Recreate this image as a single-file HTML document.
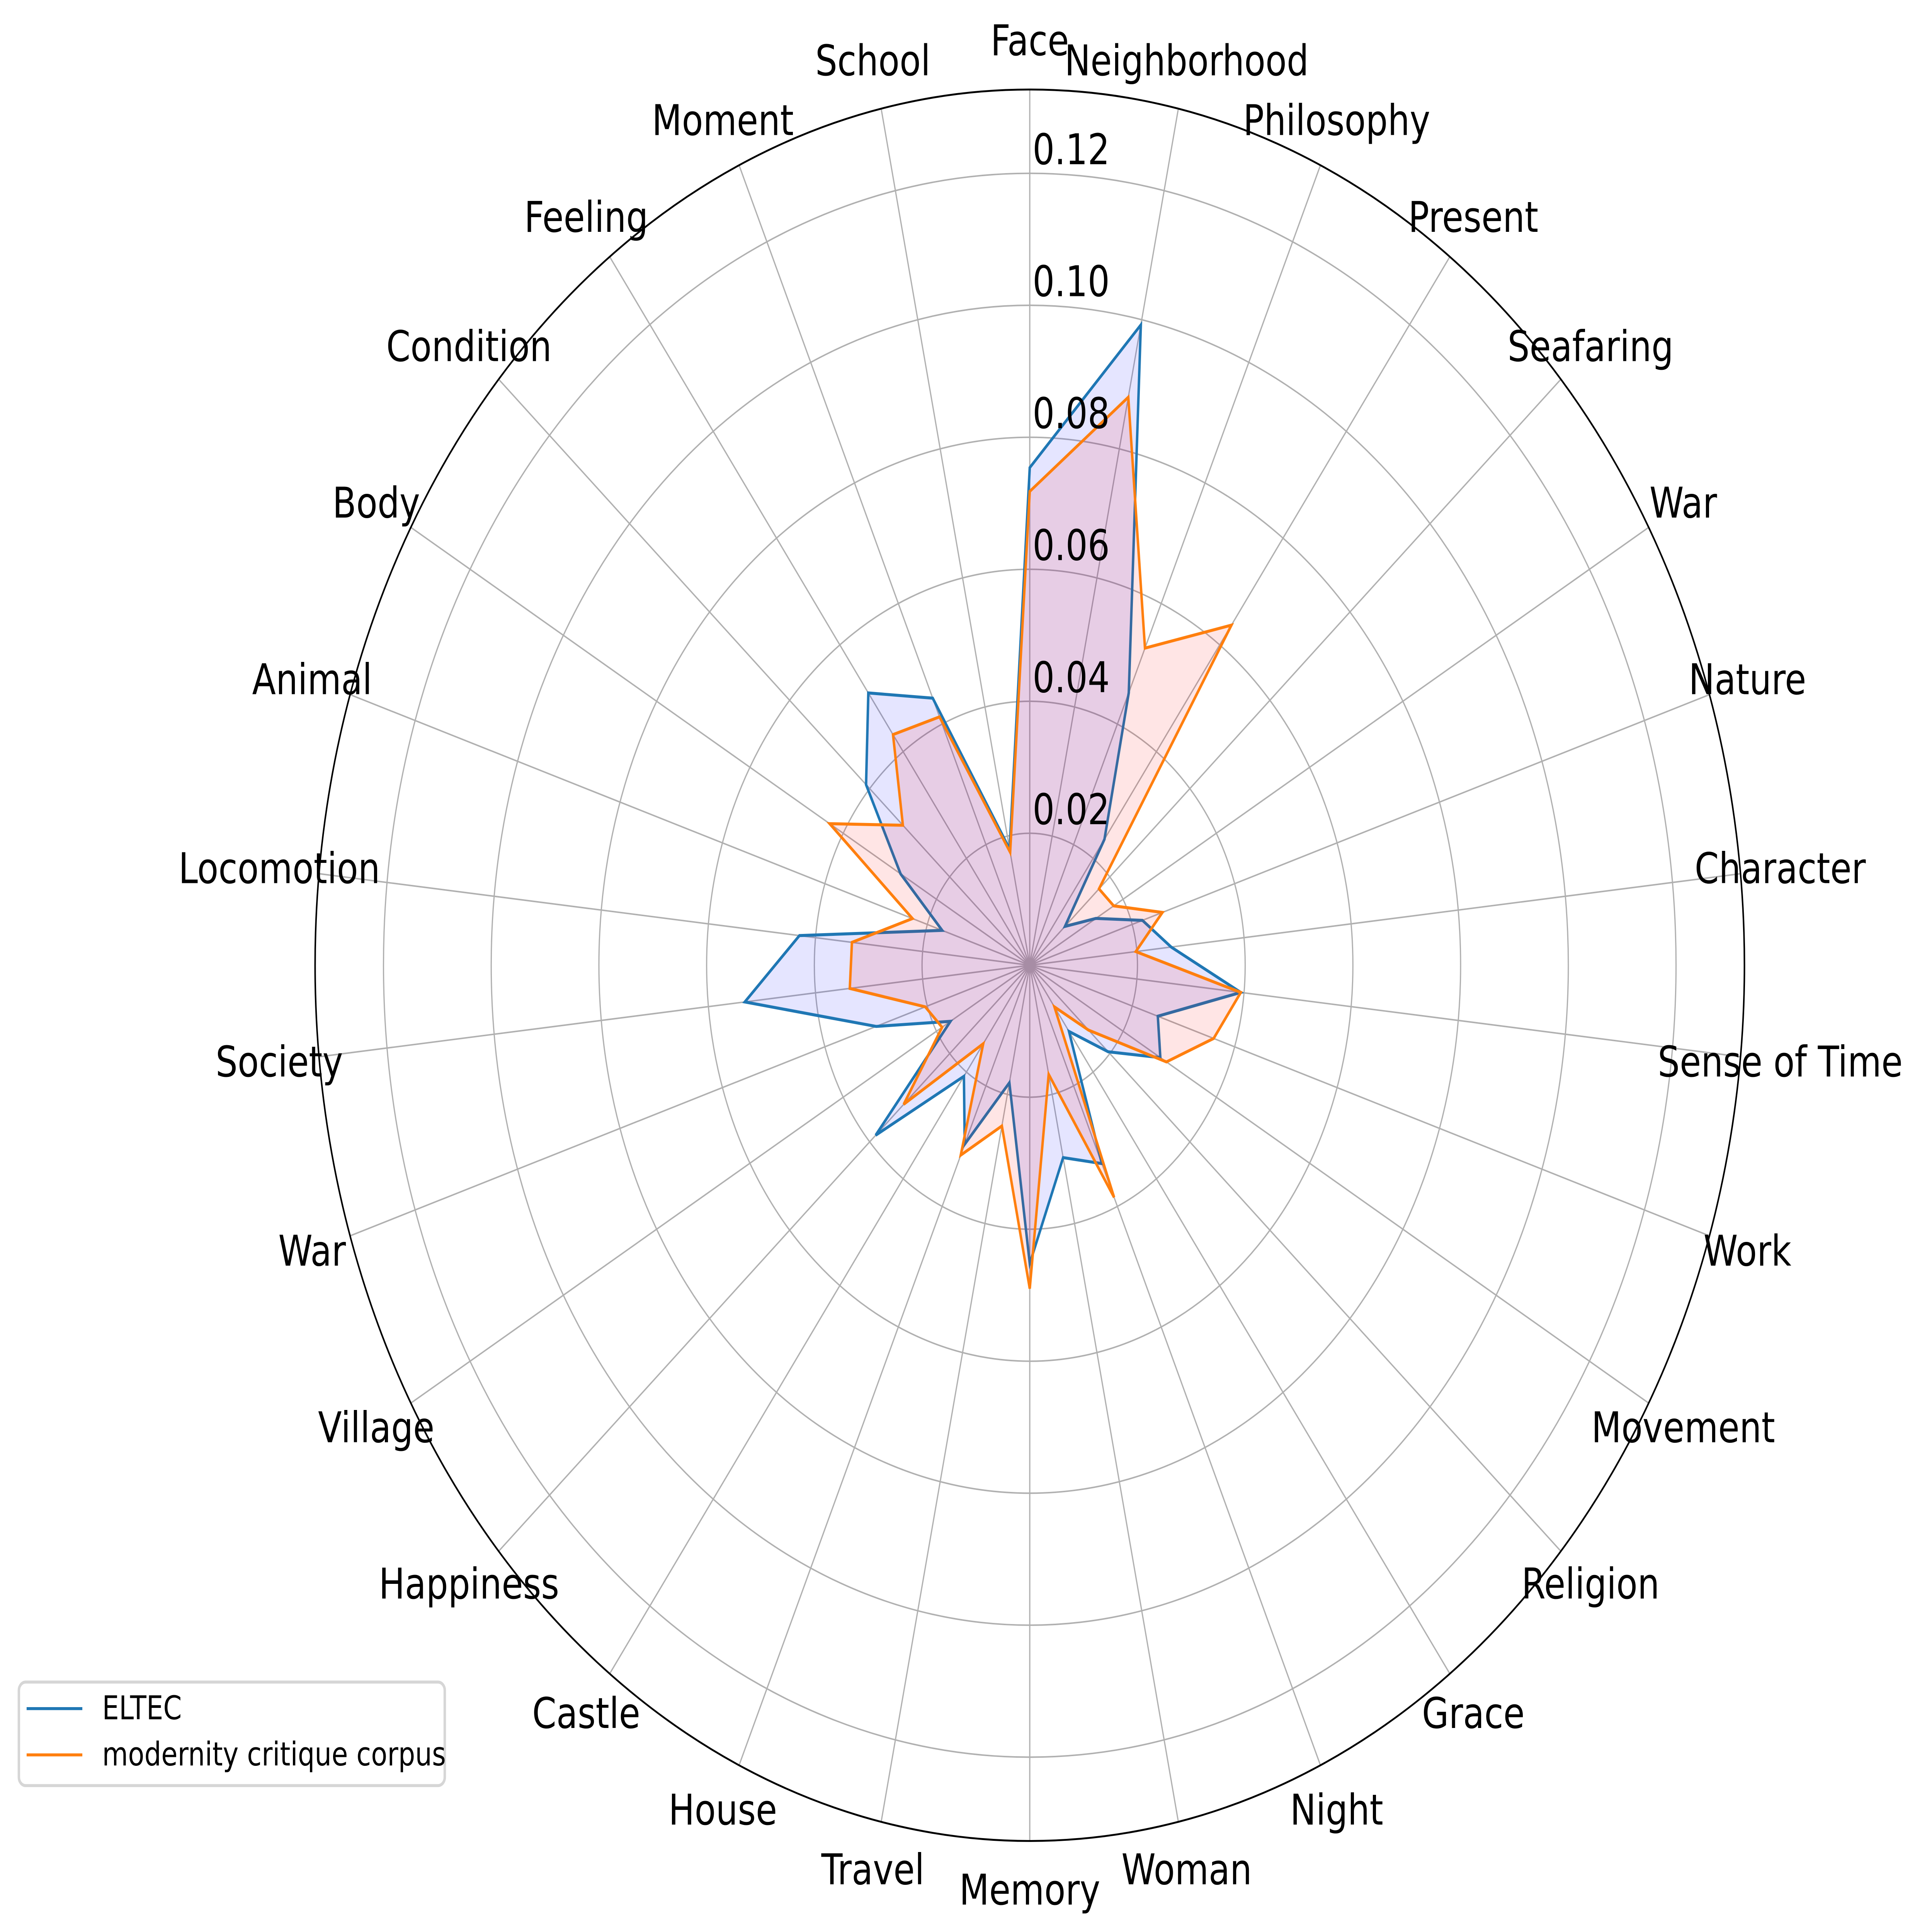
<!DOCTYPE html>
<html><head><meta charset="utf-8"><style>
html,body{margin:0;padding:0;background:#fff;width:100vw;height:100vh;overflow:hidden;}
svg{display:block;width:100vw;height:100vh;}
text{font-family:"DejaVu Sans","Liberation Sans",sans-serif;}
</style></head><body>
<svg id="chart" viewBox="0 0 6242 5094" preserveAspectRatio="none" xmlns="http://www.w3.org/2000/svg">
<rect width="6242" height="5094" fill="#fff"/>
<g id="grid"></g>
<g id="series"></g>
<g id="labels"></g>
<g id="ticks"></g>
<g>
<rect x="61" y="4435" width="1376" height="273" rx="22" fill="#fff" stroke="#d6d6d6" stroke-width="8"/>
<line x1="86" y1="4505" x2="266" y2="4505" stroke="#1f77b4" stroke-width="8"/>
<text x="330" y="4533" font-size="86">ELTEC</text>
<line x1="86" y1="4627" x2="266" y2="4627" stroke="#ff7f0e" stroke-width="8"/>
<text x="330" y="4655" font-size="86">modernity critique corpus</text>
</g>
</svg>
<script>
const categories = ["Face","Neighborhood","Philosophy","Present","Seafaring","War","Nature","Character","Sense of Time","Work","Movement","Religion","Grace","Night","Woman","Memory","Travel","House","Castle","Happiness","Village","War","Society","Locomotion","Animal","Body","Condition","Feeling","Moment","School"];
const eltecValues = [0.0754,0.0992,0.0452,0.0236,0.0088,0.0142,0.0220,0.0264,0.0394,0.0250,0.0280,0.0196,0.0124,0.0329,0.0298,0.0452,0.0182,0.0297,0.0208,0.0385,0.0170,0.0300,0.0532,0.0430,0.0171,0.0277,0.0409,0.0510,0.0443,0.0180];
const modernityValues = [0.0718,0.0880,0.0526,0.0637,0.0173,0.0180,0.0259,0.0198,0.0394,0.0359,0.0293,0.0147,0.0078,0.0385,0.0169,0.0490,0.0249,0.0315,0.0147,0.0315,0.0188,0.0204,0.0336,0.0332,0.0229,0.0429,0.0317,0.0432,0.0412,0.0175];
const tickValues = [0.02,0.04,0.06,0.08,0.10,0.12];
const tickLabels = ["0.02","0.04","0.06","0.08","0.10","0.12"];
const rMax = 0.1327;

const NS = "http://www.w3.org/2000/svg";
const cx = 3327, cy = 2545, R = 2309;
function rScale(v){ return v / rMax * R; }
function angle(i){ return i * 2 * Math.PI / categories.length; }
function pt(i, v){ const a = angle(i), r = rScale(v); return [cx + r*Math.sin(a), cy - r*Math.cos(a)]; }
function mk(tag, attrs, parent){ const e = document.createElementNS(NS, tag); for (const k in attrs) e.setAttribute(k, attrs[k]); parent.appendChild(e); return e; }

const grid = document.getElementById('grid');
tickValues.forEach((t, i) => {
  const c = mk('circle', {cx: cx, cy: cy, r: rScale(t), fill: 'none', stroke: '#b0b0b0', 'stroke-width': 4}, grid);
  
  
});
categories.forEach((c, i) => {
  const [x, y] = pt(i, rMax);
  const l = mk('line', {x1: cx, y1: cy, x2: x, y2: y, stroke: '#b0b0b0', 'stroke-width': 4}, grid);
  
  
});
const outer = mk('circle', {cx: cx, cy: cy, r: R, fill: 'none', stroke: '#000', 'stroke-width': 5}, grid);



const series = document.getElementById('series');
function drawSeries(vals, fill, stroke, name){
  const pts = vals.map((v, i) => pt(i, v).join(',')).join(' ');
  const f = mk('polygon', {points: pts, fill: fill, 'fill-opacity': 0.1, stroke: 'none'}, series);
  
  
  const l = mk('polygon', {points: pts, fill: 'none', stroke: stroke, 'stroke-width': 8, 'stroke-linejoin': 'miter'}, series);
  
  
}
drawSeries(eltecValues, 'blue', '#1f77b4', 'eltec');
drawSeries(modernityValues, 'red', '#ff7f0e', 'modernity');

const labels = document.getElementById('labels');
categories.forEach((c, i) => {
  const a = angle(i), r = 2438;
  const t = mk('text', {x: cx + r*Math.sin(a), y: cy - r*Math.cos(a), 'font-size': 112, 'text-anchor': 'middle', 'dominant-baseline': 'central'}, labels);
  t.textContent = c;
  
  
});

const ticks = document.getElementById('ticks');
tickValues.forEach((v, i) => {
  const t = mk('text', {x: 3336, y: cy - rScale(v) - 24, 'font-size': 112}, ticks);
  t.textContent = tickLabels[i];
  
  
});
</script>
</body></html>
